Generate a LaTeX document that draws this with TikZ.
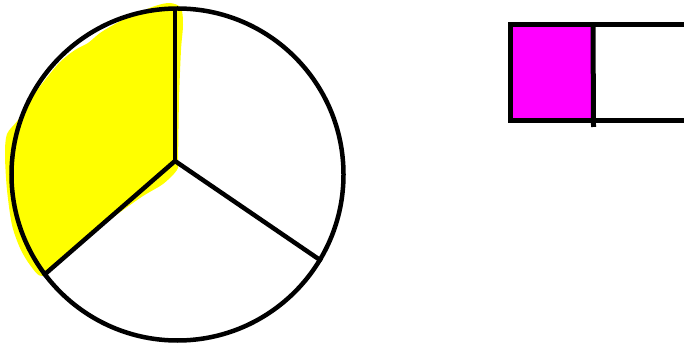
\documentclass[tikz,border=0pt]{standalone}
\usepackage{xcolor}
\usepackage{tikz}
\usetikzlibrary{positioning}

\definecolor{hiyellow}{RGB}{255,255,0}
\definecolor{himagenta}{RGB}{255,0,255}

\begin{document}
\begin{tikzpicture}[
    x=1pt, y=-1pt,
    pen/.style={draw=black, line width=4.5pt},
    piecircle/.style={circle, pen, minimum size=332pt, inner sep=0pt},
    cellbox/.style={rectangle, fill=himagenta, minimum width=83pt, minimum height=96pt, inner sep=0pt, outer sep=0pt, anchor=north west}
]
  \useasboundingbox (0,0) rectangle (684,344);
  \clip (0,0) rectangle (684,344);

  % scribbled highlight behind the pie
  \fill[hiyellow] plot[smooth cycle, tension=0.5] coordinates {
    (178,160) (179,100) (181,50) (183,25) (181,8) (170,3) (155,6) (133,15)
    (115,24) (100,33) (88,43) (75,50) (60,62) (45,80) (30,100) (18,120)
    (7,134) (5,155) (7,190) (12,225) (20,248) (30,265) (42,276)
    (60,258) (100,227) (140,198) (163,184) (177,170)};

  \node[piecircle] (pie) at (177.5,174.5) {};
  \coordinate (hub) at (175,161);
  \draw[pen] (hub) -- (175,8.5);
  \draw[pen] (hub) -- (pie.217);
  \draw[pen] (hub) -- (pie.-31);

  % bar with first cell filled
  \node[cellbox] (cell) at (510,25) {};
  \draw[pen, line width=5pt] (510,25) rectangle (720,121);
  \coordinate (cellfoot) at (593.5,127);
  \draw[pen, line width=5pt] (cell.north east) -- (cellfoot);
\end{tikzpicture}
\end{document}
